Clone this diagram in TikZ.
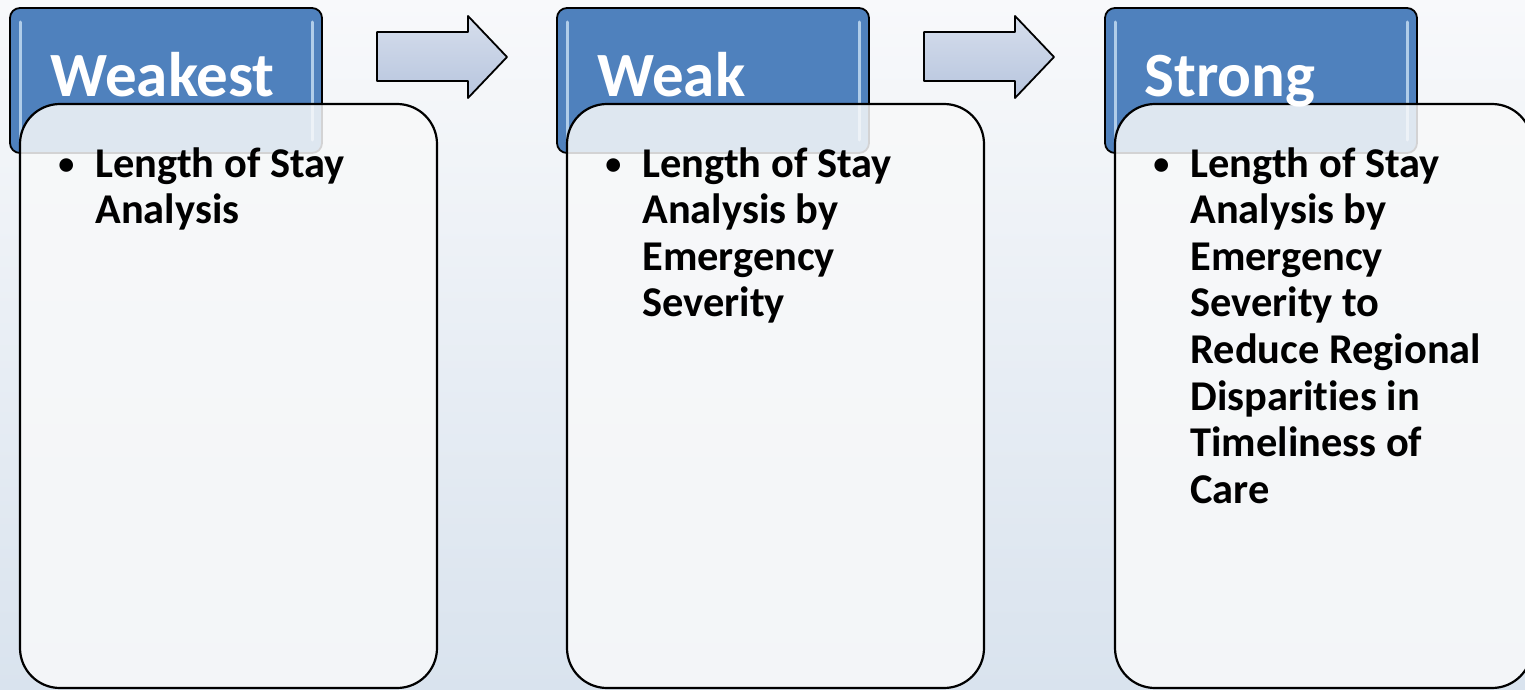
\documentclass[tikz,border=0pt]{standalone}
\usepackage{fontspec}
\setmainfont[Ligatures=NoCommon]{Carlito}
\definecolor{hdrblue}{HTML}{4F81BD}
\definecolor{bgtop}{HTML}{F8F9FB}
\definecolor{bgbot}{HTML}{D9E3EE}
\definecolor{bodyfill}{HTML}{F8F9FA}
\definecolor{arrtop}{HTML}{D6DEEC}
\definecolor{arrbot}{HTML}{B7C5DE}
\definecolor{hilite}{HTML}{C9E0F5}
\begin{document}
\begin{tikzpicture}[x=0.5pt,y=-0.5pt,
  header/.style={draw=black, line width=0.9pt, fill=hdrblue, rounded corners=5pt},
  hl/.style={draw=hilite, line width=1.5pt, opacity=0.8, line cap=round},
  bodybox/.style={draw=black, line width=1.1pt, fill=bodyfill, fill opacity=0.85, rounded corners=20pt},
  hdrtext/.style={text=white, font=\fontsize{31.5}{36}\selectfont\bfseries, inner sep=0, anchor=base west},
  bul/.style={font=\fontsize{16}{20}\selectfont\bfseries, inner sep=0, anchor=base west},
  bodytext/.style={font=\fontsize{21.2}{23.3}\selectfont\bfseries, inner sep=0, anchor=base west},
  blockarrow/.style={draw=black, line width=0.9pt, top color=arrtop, bottom color=arrbot, line join=round}]
\fill[top color=bgtop, bottom color=bgbot] (0,0) rectangle (1525,690);
\useasboundingbox (0,0) rectangle (1525,690);

% arrows
\draw[blockarrow] (377,32) -- (468,32) -- (468,16) -- (507,57) -- (468,98) -- (468,81) -- (377,81) -- cycle;
\draw[blockarrow] (924,32) -- (1015,32) -- (1015,16) -- (1054,57) -- (1015,98) -- (1015,81) -- (924,81) -- cycle;

% column 1
\draw[header] (10,8) rectangle (322,153);
\draw[hl] (20,22) -- (20,140);
\draw[hl] (312,22) -- (312,140);
\draw[bodybox] (20,104) rectangle (437,688);
\node[hdrtext] (h1) at (50,97) {Weakest};
\node[bul] (b1) at (58,174) {•};
\node[bodytext] (t1) at (95,177) {\parbox[t]{300pt}{\raggedright Length of Stay\\Analysis}};

% column 2
\draw[header] (557,8) rectangle (869,153);
\draw[hl] (567,22) -- (567,140);
\draw[hl] (859,22) -- (859,140);
\draw[bodybox] (567,104) rectangle (984,688);
\node[hdrtext] (h2) at (597,97) {Weak};
\node[bul] (b2) at (605,174) {•};
\node[bodytext] (t2) at (642,177) {\parbox[t]{300pt}{\raggedright Length of Stay\\Analysis by\\Emergency\\Severity}};

% column 3
\draw[header] (1105,8) rectangle (1417,153);
\draw[hl] (1115,22) -- (1115,140);
\draw[hl] (1407,22) -- (1407,140);
\draw[bodybox] (1115,104) rectangle (1532,688);
\node[hdrtext] (h3) at (1144,97) {Strong};
\node[bul] (b3) at (1153,174) {•};
\node[bodytext] (t3) at (1190,177) {\parbox[t]{300pt}{\raggedright Length of Stay\\Analysis by\\Emergency\\Severity to\\Reduce Regional\\Disparities in\\Timeliness of\\Care}};
\end{tikzpicture}
\end{document}
